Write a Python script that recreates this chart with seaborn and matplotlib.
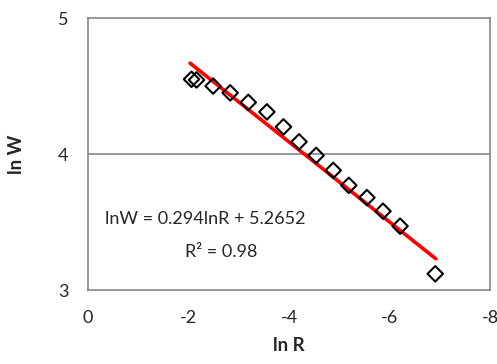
import numpy as np
import pandas as pd
import seaborn as sns
import matplotlib.pyplot as plt

# data
ln_r = [-2.06, -2.16, -2.49, -2.83, -3.19, -3.56, -3.89, -4.20, -4.54,
        -4.88, -5.19, -5.55, -5.87, -6.21, -6.91]
ln_w = [4.55, 4.545, 4.50, 4.45, 4.38, 4.31, 4.20, 4.09, 3.99,
        3.88, 3.77, 3.68, 3.58, 3.47, 3.12]
slope, intercept = 0.294, 5.2652
fit_x = [-2.03, -6.92]

df = pd.DataFrame({"lnR": ln_r, "lnW": ln_w})
fit = pd.DataFrame({"lnR": fit_x})
fit["lnW"] = slope * fit["lnR"] + intercept

sns.set_style("white")
plt.rcParams["font.family"] = ["Lato", "DejaVu Sans"]
plt.rcParams["axes.unicode_minus"] = False

fig = plt.figure(figsize=(4.97, 3.64), dpi=100)
ax = fig.add_axes([0.177, 0.203, 0.809, 0.7475])

ax.axhline(4, color="#868686", lw=1.2, zorder=0)
sns.lineplot(data=fit, x="lnR", y="lnW", color="#ff0000", lw=2.6, ax=ax, zorder=2)
sns.scatterplot(data=df, x="lnR", y="lnW", marker="D", s=62, facecolor="none",
                edgecolor="black", linewidth=1.5, ax=ax, zorder=3)

ax.set_xlim(0, -8)
ax.set_ylim(3, 5)
ax.set_xticks([0, -2, -4, -6, -8])
ax.set_yticks([3, 4, 5])
ax.tick_params(length=0, labelsize=13, pad=14)
ax.tick_params(axis="x", pad=14)
for s in ax.spines.values():
    s.set_color("#868686")
    s.set_linewidth(1.2)

ax.set_xlabel("ln R", fontsize=13.5, fontweight="bold", labelpad=8)
ax.set_ylabel("ln W", fontsize=13.5, fontweight="bold", labelpad=24)

ax.text(-0.33, 3.52, "lnW = 0.294lnR + 5.2652", fontsize=13, va="center", ha="left")
ax.text(-1.93, 3.28, "R² = 0.98", fontsize=13, va="center", ha="left")

fig.savefig("out.png", dpi=100)
